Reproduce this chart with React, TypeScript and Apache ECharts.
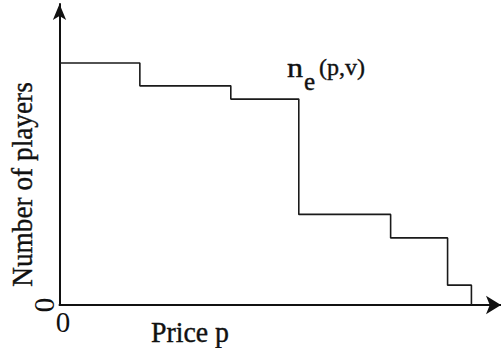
import React, { useEffect, useRef } from "react";
import * as echarts from "echarts";

// Step profile of the number of players against price
const priceBreaks = [0, 1.82, 3.88, 5.42, 7.5, 8.79, 9.33];
const playerCounts = [8.04, 7.28, 6.84, 3.01, 2.23, 0.66, 0];

// Axis ranges and the single tick label on each axis
const priceRange = [0, 10];
const playerRange = [0, 10];
const xTickValues = [0];
const xTickLabels = ["0"];
const yTickValues = [0];
const yTickLabels = ["0"];

const serif = "Times New Roman, Liberation Serif, Tinos, DejaVu Serif, serif";

function tickFormatter(values: number[], labels: string[]) {
  return (v: number) => {
    const i = values.indexOf(v);
    return i >= 0 ? labels[i] : "";
  };
}

function label(
  text: string,
  x: number,
  y: number,
  size: number,
  extra: Record<string, unknown> = {}
) {
  return {
    type: "text",
    x,
    y,
    ...extra,
    style: {
      text,
      font: `${size}px ${serif}`,
      fill: "#111",
      stroke: "#111",
      lineWidth: 0.4,
      align: (extra.align as string) || "left",
      verticalAlign: "middle",
    },
  };
}

export default function App() {
  const ref = useRef<HTMLDivElement>(null);

  useEffect(() => {
    if (!ref.current) return;
    const chart = echarts.init(ref.current, null, { renderer: "svg" });
    const axisLineStyle = { color: "#111", width: 2 };

    chart.setOption({
      animation: false,
      backgroundColor: "#fff",
      grid: {
        left: 59.5,
        right: 0,
        top: 4,
        bottom: 43,
        containLabel: false,
        outerBoundsMode: "none",
      },
      xAxis: {
        type: "value",
        min: priceRange[0],
        max: priceRange[1],
        interval: 10,
        axisLine: {
          show: true,
          onZero: false,
          symbol: ["none", "arrow"],
          symbolSize: [14, 15],
          lineStyle: axisLineStyle,
        },
        axisTick: { show: false },
        splitLine: { show: false },
        axisLabel: {
          show: true,
          showMaxLabel: false,
          formatter: tickFormatter(xTickValues, xTickLabels),
          fontFamily: serif,
          fontSize: 29,
          color: "#111",
          margin: 2,
          padding: [0, 0, 0, 7],
        },
      },
      yAxis: {
        type: "value",
        min: playerRange[0],
        max: playerRange[1],
        interval: 10,
        axisLine: {
          show: true,
          onZero: false,
          symbol: ["none", "arrow"],
          symbolSize: [10, 16],
          lineStyle: axisLineStyle,
        },
        axisTick: { show: false },
        splitLine: { show: false },
        axisLabel: {
          show: true,
          showMaxLabel: false,
          rotate: 90,
          formatter: tickFormatter(yTickValues, yTickLabels),
          fontFamily: serif,
          fontSize: 29,
          color: "#111",
          margin: 1,
        },
      },
      series: [
        {
          type: "line",
          step: "end",
          symbol: "none",
          lineStyle: { color: "#1a1a1a", width: 1.6 },
          data: priceBreaks.map((p, i) => [p, playerCounts[i]]),
        },
      ],
      graphic: [
        label("Number of players", 22, 184.5, 30, {
          rotation: Math.PI / 2,
          scaleX: 0.91,
          align: "center",
        }),
        label("Price p", 151, 332, 29, { scaleX: 0.96 }),
        label("n", 287, 68, 28, { scaleX: 1.15 }),
        label("e", 304, 81.5, 25),
        label("(p,v)", 319, 66.5, 24),
      ],
    });

    return () => chart.dispose();
  }, []);

  return (
    <div
      ref={ref}
      style={{ position: "fixed", left: 0, top: 0, width: 501, height: 348 }}
    />
  );
}
